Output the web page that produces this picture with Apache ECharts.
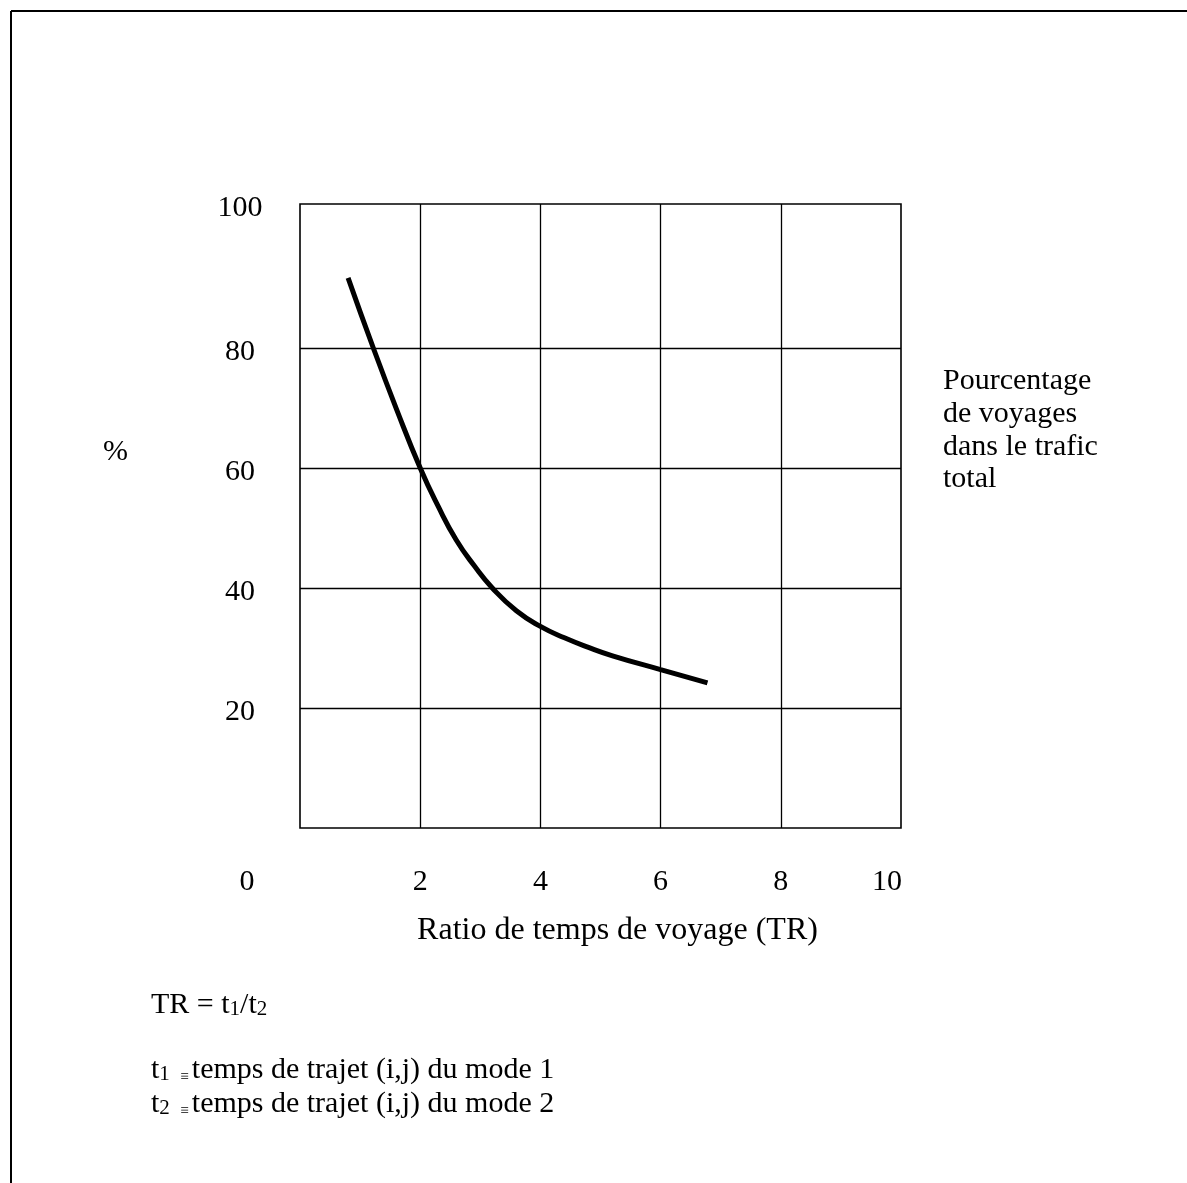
<!DOCTYPE html>
<html>
<head>
<meta charset="utf-8">
<script src="https://cdn.jsdelivr.net/npm/echarts@6/dist/echarts.min.js"></script>
<style>
html,body{margin:0;padding:0;background:#fff;}
#chart{width:1187px;height:1183px;}
</style>
</head>
<body>
<div id="chart"></div>
<script>
// ---- data ----
var ratioTR = [0.80, 1.22, 1.61, 2.00, 2.30, 2.60, 2.90, 3.20, 3.60, 4.00, 4.40, 4.80, 5.20, 6.00, 6.78];
var pctTrips = [91.7, 80.0, 69.7, 60.0, 53.6, 48.0, 43.7, 40.0, 36.2, 33.6, 31.7, 30.1, 28.7, 26.4, 24.2];
var xTickValues = [0, 2, 4, 6, 8, 10];
var yTickValues = [20, 40, 60, 80];
var yTopLabel = '100';
var xGridValues = [2, 4, 6, 8];
var yGridValues = [20, 40, 60, 80];
var xName = 'Ratio de temps de voyage (TR)';
var yUnit = '%';
var sideNote = ['Pourcentage', 'de voyages', 'dans le trafic', 'total'];

var FONT = '"Liberation Serif", "Times New Roman", serif';
var Y_MAX = 104;

var chart = echarts.init(document.getElementById('chart'));

var markData = [];
yGridValues.forEach(function (v) { markData.push({ yAxis: v }); });
xGridValues.forEach(function (v) { markData.push({ xAxis: v }); });

var pts = ratioTR.map(function (x, i) { return [x, pctTrips[i]]; });

var tokenBase = { fontFamily: FONT, fontSize: 30, color: '#000' };
function tok(extra) { return Object.assign({}, tokenBase, extra || {}); }

chart.setOption({
  backgroundColor: '#fff',
  animation: false,
  grid: {
    left: 300, top: 204, width: 601, height: 624,
    show: true, borderColor: '#000', borderWidth: 1.6, backgroundColor: 'transparent'
  },
  xAxis: {
    type: 'value', min: 0, max: 10,
    axisLine: { show: false }, axisTick: { show: false }, splitLine: { show: false },
    axisLabel: {
      customValues: xTickValues,
      margin: 39,
      fontFamily: FONT, fontSize: 30, color: '#000',
      formatter: function (v) {
        if (v === 0) return '{z|' + v + '}';
        if (v === 10) return '{t|' + v + '}';
        return '{n|' + v + '}';
      },
      rich: {
        z: tok({ padding: [0, 106, 0, 0] }),
        t: tok({ padding: [0, 28, 0, 0] }),
        n: tok()
      }
    },
    name: xName,
    nameLocation: 'middle',
    nameGap: 87,
    nameTextStyle: { fontFamily: FONT, fontSize: 32, color: '#000', padding: [0, 0, 0, 34] }
  },
  yAxis: {
    type: 'value', min: 0, max: Y_MAX,
    axisLine: { show: false }, axisTick: { show: false }, splitLine: { show: false },
    axisLabel: {
      customValues: yTickValues.concat([Y_MAX]),
      align: 'center',
      margin: 60,
      fontFamily: FONT, fontSize: 30, color: '#000',
      formatter: function (v) { return '{y|' + (v === Y_MAX ? yTopLabel : String(v)) + '}'; },
      rich: { y: tok({ padding: [9, 0, 0, 0] }) }
    }
  },
  series: [{
    type: 'line',
    data: pts,
    smooth: 0.5,
    showSymbol: false,
    symbol: 'none',
    lineStyle: { color: '#000', width: 5, cap: 'butt' },
    silent: true,
    markLine: {
      silent: true,
      symbol: 'none',
      label: { show: false },
      lineStyle: { color: '#000', width: 1.3, type: 'solid' },
      data: markData
    }
  }],
  graphic: [
    { type: 'line', shape: { x1: 11, y1: 11, x2: 1187, y2: 11 }, style: { stroke: '#000', lineWidth: 2 } },
    { type: 'line', shape: { x1: 11, y1: 11, x2: 11, y2: 1183 }, style: { stroke: '#000', lineWidth: 2 } },
    { type: 'text', left: 103, top: 437, style: { text: yUnit, font: '30px ' + FONT, fill: '#000' } },
    { type: 'text', x: 943, y: 365, style: { text: sideNote.join('\n'), font: '30px ' + FONT, fill: '#000', lineHeight: 32.7, verticalAlign: 'top' } },
    { type: 'text', x: 151, y: 1005, style: {
        text: '{n|TR = t}{s|1}{n|/t}{s|2}', verticalAlign: 'middle',
        rich: { n: tok(), s: tok({ fontSize: 21, verticalAlign: 'bottom' }) } } },
    { type: 'text', x: 151, y: 1070, style: {
        text: '{n|t}{s|1  }{e|≡}{n|temps de trajet (i,j) du mode 1}', verticalAlign: 'middle',
        rich: { n: tok(), s: tok({ fontSize: 21, verticalAlign: 'bottom' }), e: tok({ fontSize: 15, verticalAlign: 'bottom', padding: [0, 3, 0, 0] }) } } },
    { type: 'text', x: 151, y: 1104, style: {
        text: '{n|t}{s|2  }{e|≡}{n|temps de trajet (i,j) du mode 2}', verticalAlign: 'middle',
        rich: { n: tok(), s: tok({ fontSize: 21, verticalAlign: 'bottom' }), e: tok({ fontSize: 15, verticalAlign: 'bottom', padding: [0, 3, 0, 0] }) } } }
  ]
});
</script>
</body>
</html>
